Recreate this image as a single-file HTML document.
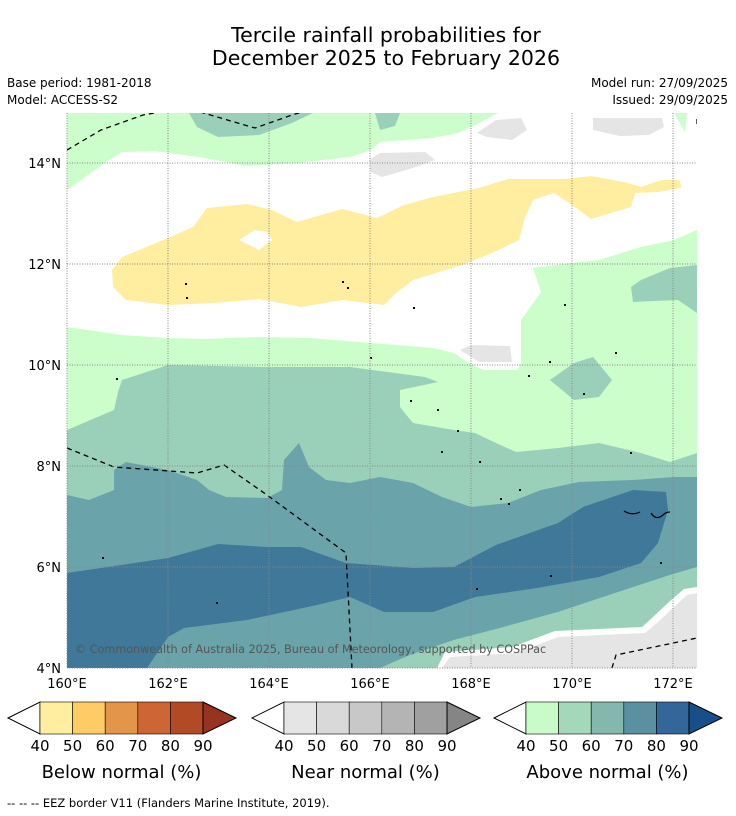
<!DOCTYPE html>
<html><head><meta charset="utf-8"><style>
body{margin:0;background:#fff;width:736px;height:816px;overflow:hidden;font-family:"Liberation Sans","DejaVu Sans",sans-serif}
svg{position:absolute;left:0;top:0}
</style></head><body>
<svg id="s" width="736" height="816" viewBox="0 0 736 816" font-family="DejaVu Sans, Liberation Sans, sans-serif">
<text x="386" y="42" font-size="20.5" text-anchor="middle">Tercile rainfall probabilities for</text>
<text x="386" y="65" font-size="20.5" text-anchor="middle">December 2025 to February 2026</text>
<text x="7" y="87" font-size="12">Base period: 1981-2018</text>
<text x="7" y="104" font-size="12">Model: ACCESS-S2</text>
<text x="728" y="87" font-size="12" text-anchor="end">Model run: 27/09/2025</text>
<text x="728" y="104" font-size="12" text-anchor="end">Issued: 29/09/2025</text>
<defs><clipPath id="mc"><rect x="67" y="113" width="630" height="555"/></clipPath></defs>
<g id="map" clip-path="url(#mc)"></g>
<g id="axes"></g>
<g id="legend"></g>
<text x="7" y="807" font-size="11.5">--  --  -- EEZ border V11 (Flanders Marine Institute, 2019).</text>
</svg>
<script>
const lonTicks=[160,162,164,166,168,170,172];
const latTicks=[4,6,8,10,12,14];
const levels=[40,50,60,70,80,90];
const belowColors=["#ffeda0","#fecb65","#e3964a","#ce6534","#b24a26","#963321"];
const nearColors=["#e5e5e5","#d9d9d9","#c8c8c8","#b4b4b4","#a0a0a0","#858585"];
const aboveColors=["#c9fbc9","#a4d8bb","#84b8ad","#5a90a0","#336699","#184f88"];
const X=lon=>67+(lon-160)*50.5, Y=lat=>668-(lat-4)*50.5;
const NS="http://www.w3.org/2000/svg";
function mk(t,a,p){const e=document.createElementNS(NS,t);for(const k in a)e.setAttribute(k,a[k]);p.appendChild(e);return e;}
const map=document.getElementById('map');
const regions=[
["#ffffff","67,113 697,113 697,668 67,668","background-white"],
["#ccfecc","67,113 498,113 475,125 458,133 433,138 380,142 371,150 350,157 297,163 247,166 205,158 155,151 122,152 106,162 67,190","light-green-top"],
["#9ad0b9","189,113 197,127 218,137 259,135 292,123 313,113","mid-green-top-blob"],
["#9ad0b9","375,113 380,130 395,126 400,113","mid-green-top-blob-2"],
["#ccfecc","674,113 687,113 685,132","light-green-top-right"],
["#e5e5e5","477,133 496,120 521,118 527,130 512,140 487,137","grey-blob-1"],
["#e5e5e5","593,118 662,118 664,127 649,135 620,136 593,130","grey-blob-2"],
["#e5e5e5","369,160 380,153 425,152 435,160 413,168 382,177 371,172","grey-blob-3"],
["#ffeda0","112,270 122,257 168,238 193,227 207,208 247,204 272,210 297,222 342,209 377,218 404,205 433,197 479,188 508,179 566,179 591,176 624,182 641,187 662,180 680,180 681,188 658,192 635,193 631,207 591,219 575,207 554,193 533,200 525,217 519,240 492,253 462,265 413,280 396,293 384,305 342,300 301,307 259,299 214,303 168,305 126,300 113,287","yellow-below-50"],
["#ffffff","239,240 255,230 267,232 272,240 259,250","yellow-hole"],
["#ccfecc","67,327 122,335 168,338 205,339 255,337 309,338 371,343 433,348 454,353 467,362 483,370 517,370 521,363 521,320 541,292 533,268 571,263 599,260 641,247 674,240 697,230 697,668 67,668","light-green-lower"],
["#e5e5e5","460,350 471,345 510,346 512,362 479,362","grey-blob-4"],
["#9ad0b9","631,287 641,280 670,268 697,265 697,313 678,300 633,302","mid-green-right-blob"],
["#9ad0b9","550,380 574,363 593,357 612,380 599,397 574,400","mid-green-small-blob"],
["#9ad0b9","67,430 114,410 118,392 122,380 168,365 267,367 350,367 425,377 438,382 400,390 400,407 413,423 454,430 475,433 496,443 516,452 558,448 599,443 641,453 670,462 697,453 697,668 67,668","mid-green-main"],
["#6aa3a9","67,495 89,500 114,490 114,470 126,462 168,470 197,480 209,490 226,497 267,498 282,490 284,460 299,443 309,467 326,480 350,483 380,477 413,483 442,497 471,507 508,503 541,490 579,482 633,480 674,477 697,477 697,567 670,575 600,598 558,612 500,628 454,640 410,655 380,668 67,668","teal-above-70"],
["#3f7899","67,573 101,568 168,558 218,544 267,547 301,547 346,563 413,568 454,567 496,545 558,523 583,507 633,490 666,492 668,510 658,543 641,563 599,577 537,588 475,597 433,612 384,612 350,597 317,605 247,620 184,628 168,637 147,668 67,668","dark-blue-above-80"],
["#9ad0b9","697,567 670,575 600,598 558,612 500,628 454,640 410,655 380,668 420,668 454,655 500,642 558,632 633,615 674,600 697,592","mid-green-bottom"],
["#ffffff","437,668 445,652 512,647 555,631 642,627 653,617 670,601 684,589 697,587 697,668","white-strip-bottom"],
["#e5e5e5","442,668 450,657 516,653 558,637 645,633 657,623 674,607 687,595 697,593 697,668","grey-bottom-right"]
];
regions.forEach(r=>{const p=mk('polygon',{points:r[1],fill:r[0]},map);

});
const eez=[["67,150 101,130 143,115 160,112","eez-top-left"],["200,112 255,128 292,115 302,112","eez-top-mid"],["67,448 114,467 197,473 224,465 267,495 346,553 352,668","eez-middle"],["612,668 616,655 697,638","eez-bottom-right"],["697,119 697,126","eez-right-tick"]];
eez.forEach(e=>{const l=mk('polyline',{points:e[0],fill:'none',stroke:'#000','stroke-width':1.3,'stroke-dasharray':'5,4'},map);

});
[[185,283],[186,297],[342,281],[347,287],[413,307],[370,357],[116,378],[549,361],[528,375],[410,400],[437,409],[457,430],[441,451],[479,461],[519,489],[500,498],[508,503],[102,557],[216,602],[476,588],[550,575],[660,562],[630,452],[564,304],[615,352],[583,393]].forEach(d=>{const c=mk('rect',{x:d[0],y:d[1],width:2,height:2,fill:'#000'},map);

});
mk('path',{d:"M624,511 q8,5 16,1 M651,513 q5,8 12,2 q3,-3 7,-3",stroke:'#000',fill:'none','stroke-width':1.2},map);
const ax=document.getElementById('axes');
lonTicks.forEach(v=>{const l=mk('line',{x1:X(v),x2:X(v),y1:113,y2:668,stroke:'#888','stroke-width':1,'stroke-dasharray':'1,1.5'},ax);


const t=mk('text',{x:X(v),y:688,'font-size':13,'text-anchor':'middle'},ax);t.textContent=v+'°E';

});
latTicks.forEach(v=>{const l=mk('line',{x1:67,x2:697,y1:Y(v),y2:Y(v),stroke:'#888','stroke-width':1,'stroke-dasharray':'1,1.5'},ax);


const t=mk('text',{x:61,y:Y(v)+5,'font-size':13,'text-anchor':'end'},ax);t.textContent=v+'°N';

});
const cp=mk('text',{x:75,y:653,'font-size':11.2,fill:'#555'},ax);cp.textContent='© Commonwealth of Australia 2025, Bureau of Meteorology, supported by COSPPac';


const lg=document.getElementById('legend');
const bars=[[8,belowColors,'Below normal (%)','below-colorbar'],[252,nearColors,'Near normal (%)','near-colorbar'],[494,aboveColors,'Above normal (%)','above-colorbar']];
bars.forEach(b=>{const x0=b[0],r0=x0+32,w=32.6,y0=702,y1=734,ym=718;
const g=mk('g',{},lg);


mk('polygon',{points:`${x0},${ym} ${r0},${y0} ${r0},${y1}`,fill:'#fff',stroke:'#000'},g);
for(let i=0;i<5;i++){mk('rect',{x:r0+i*w,y:y0,width:w,height:32,fill:b[1][i],stroke:'#000','stroke-width':0.6},g);}
const re=r0+5*w;
mk('polygon',{points:`${re},${y0} ${re+33},${ym} ${re},${y1}`,fill:b[1][5],stroke:'#000'},g);
levels.forEach((v,i)=>{const t=mk('text',{x:r0+i*w,y:751,'font-size':15,'text-anchor':'middle'},g);t.textContent=v;

});
const tt=mk('text',{x:r0+2.5*w,y:778,'font-size':18,'text-anchor':'middle'},g);tt.textContent=b[2];

});
</script>
</body></html>
